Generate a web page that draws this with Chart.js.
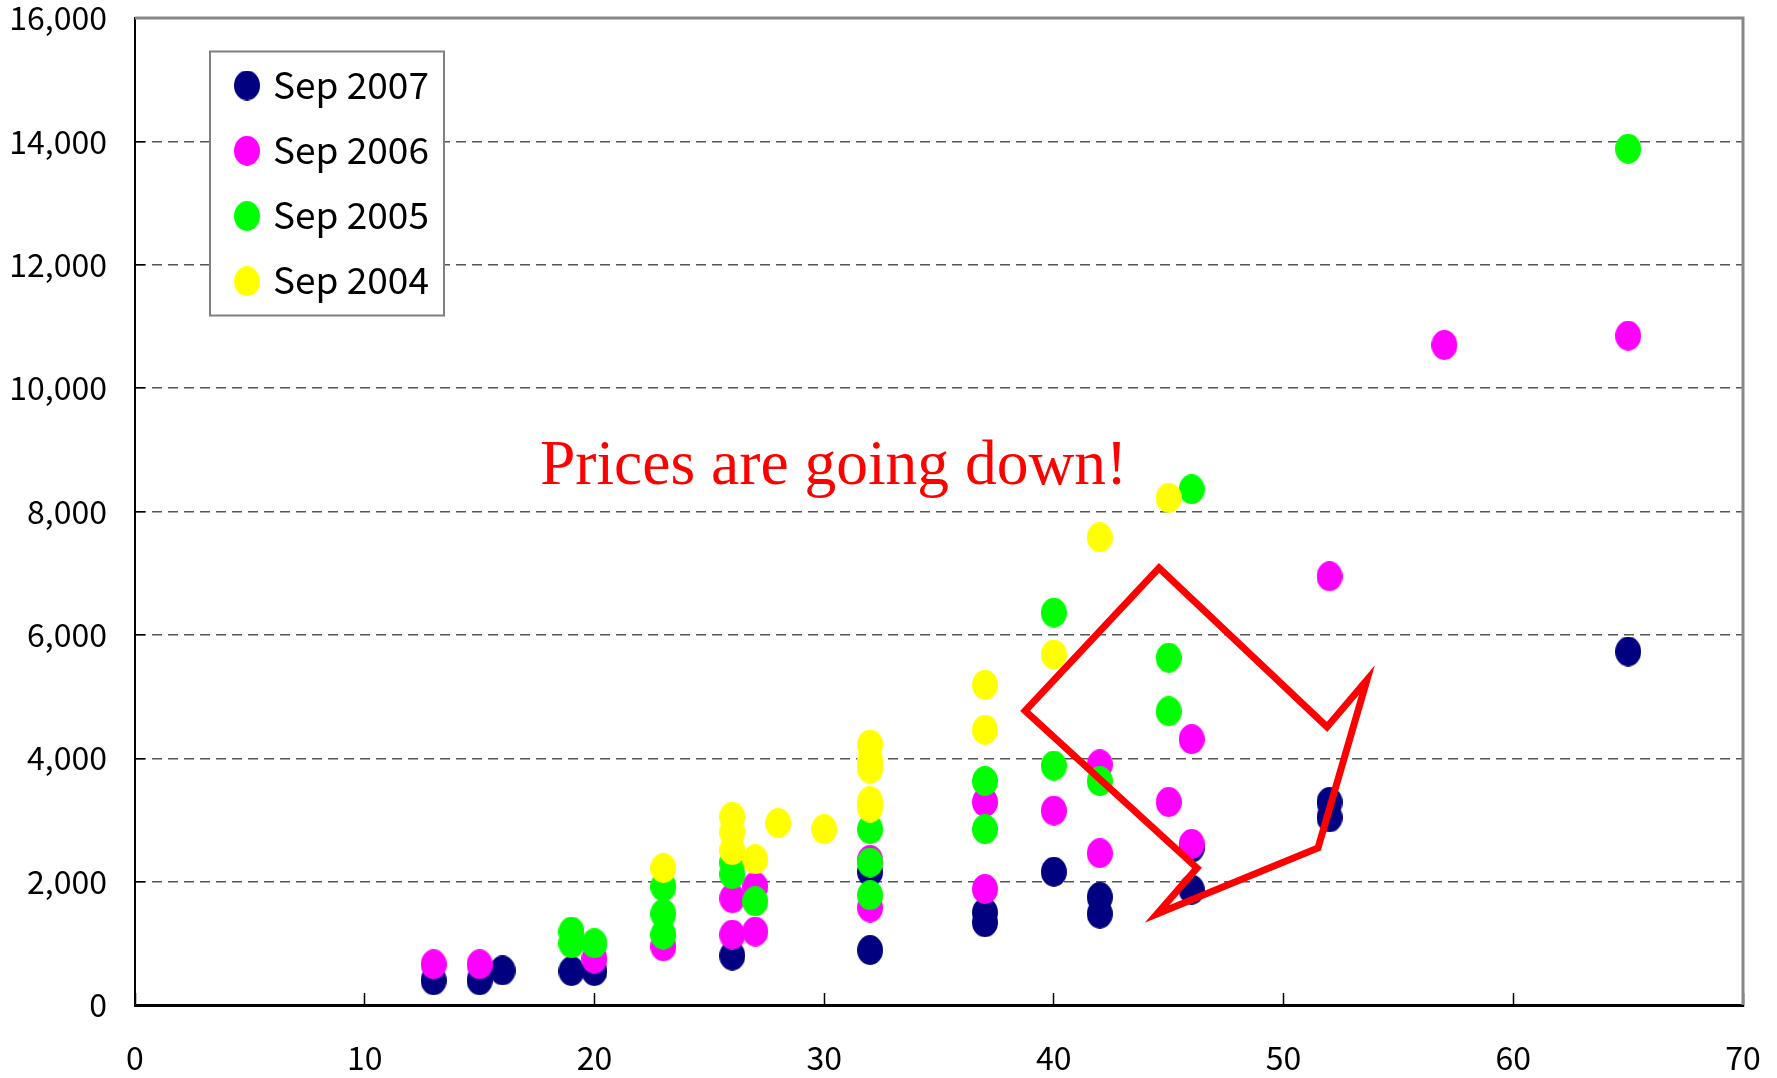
<!DOCTYPE html>
<html>
<head>
<meta charset="utf-8">
<script src="https://cdn.jsdelivr.net/npm/chart.js@4.4.1/dist/chart.umd.min.js"></script>
<style>
  html, body { margin: 0; padding: 0; background: #fff; }
  #wrap { width: 1777px; height: 1078px; }
</style>
</head>
<body>
<div id="wrap"><canvas id="chart" width="1777" height="1078"></canvas></div>
<script>
// series names and colours (legend order)
const SERIES_LABELS = ["Sep 2007", "Sep 2006", "Sep 2005", "Sep 2004"];
const SERIES_COLORS = ["#000080", "#FF00FF", "#00FF00", "#FFFF00"];

// [x, price] pairs
const SEP_2007 = [[13,400],[15,400],[16,560],[19,550],[20,550],[26,800],[32,2160],[32,890],
  [37,1500],[37,1340],[40,2160],[42,1750],[42,1480],[46,2550],[46,1870],[52,3290],[52,3040],[65,5730]];
const SEP_2006 = [[13,660],[15,660],[20,750],[23,950],[26,1730],[26,1140],[27,1920],[27,1190],
  [32,2350],[32,1580],[37,3290],[37,1880],[40,3150],[42,3900],[42,2460],[45,3290],[46,4310],
  [46,2610],[52,6950],[57,10700],[65,10850]];
const SEP_2005 = [[19,1190],[19,1000],[20,1000],[23,1920],[23,1480],[23,1140],[26,2310],[26,2120],
  [27,1680],[32,2850],[32,2310],[32,1780],[37,3630],[37,2850],[40,6360],[40,3880],[42,3630],
  [45,5630],[45,4760],[46,8360],[65,13880]];
const SEP_2004 = [[23,2220],[26,3050],[26,2800],[26,2510],[27,2360],[28,2950],[30,2850],[32,4220],
  [32,3970],[32,3830],[32,3300],[32,3200],[37,5190],[37,4460],[40,5680],[42,7580],[45,8220]];
const SERIES_DATA = [SEP_2007, SEP_2006, SEP_2005, SEP_2004];

const X_MIN = 0, X_MAX = 70, X_STEP = 10;
const Y_MIN = 0, Y_MAX = 16000, Y_STEP = 2000;

// annotation, in data units
const NOTE_TEXT = "Prices are going down!";
const NOTE_AT = [17.63, 8450];
const ARROW = [[44.58,7086],[38.75,4768],[46.23,2222],[44.49,1476],[51.50,2546],[53.63,5270],[51.89,4508]];

const TICK_FONT = '"Noto Sans CJK JP", "Noto Sans", sans-serif';

function ellipseMarker(color){
    const c = document.createElement("canvas");
    c.width = 26; c.height = 30;
    const g = c.getContext("2d");
    g.fillStyle = color;
    g.beginPath();
    g.ellipse(13, 15, 13, 15, 0, 0, Math.PI * 2);
    g.fill();
    return c;
}

// gray frame on top and right of plot
const frame = {
    id: "frame",
    beforeDatasetsDraw(chart){
        const {ctx, chartArea: a} = chart;
        ctx.save();
        ctx.strokeStyle = "#888";
        ctx.lineWidth = 3;
        ctx.beginPath();
        ctx.moveTo(a.left, a.top);
        ctx.lineTo(a.right, a.top);
        ctx.lineTo(a.right, a.bottom);
        ctx.stroke();
        ctx.restore();
    }
};

// red text + arrow outline
const note = {
    id: "note",
    afterDatasetsDraw(chart){
        const {ctx} = chart;
        const xs = chart.scales.x, ys = chart.scales.y;
        ctx.save();
        ctx.strokeStyle = "#FF0000";
        ctx.lineWidth = 7;
        ctx.lineJoin = "miter";
        ctx.miterLimit = 10;
        ctx.beginPath();
        ARROW.forEach(([x, y], i) => {
            const px = xs.getPixelForValue(x), py = ys.getPixelForValue(y);
            if(i === 0) ctx.moveTo(px, py); else ctx.lineTo(px, py);
        });
        ctx.closePath();
        ctx.stroke();

        ctx.fillStyle = "#FF0000";
        ctx.font = '63.5px "Liberation Serif", "Times New Roman", serif';
        ctx.textBaseline = "alphabetic";
        ctx.fillText(NOTE_TEXT, xs.getPixelForValue(NOTE_AT[0]), ys.getPixelForValue(NOTE_AT[1]));
        ctx.restore();
    }
};

// boxed legend inside the plot
const legendBox = {
    id: "legendBox",
    afterDraw(chart){
        const {ctx, chartArea: a} = chart;
        const left = a.left + 75, top = a.top + 33.5, w = 234, h = 264;
        ctx.save();
        ctx.fillStyle = "#fff";
        ctx.fillRect(left, top, w, h);
        ctx.strokeStyle = "#808080";
        ctx.lineWidth = 2;
        ctx.strokeRect(left, top, w, h);
        ctx.font = "37px " + TICK_FONT;
        ctx.textBaseline = "alphabetic";
        ctx.fillStyle = "#000";
        chart.data.datasets.forEach((ds, i) => {
            const cy = top + 34 + i * 65.3;
            ctx.drawImage(ds.pointStyle, left + 24, cy - 15);
            ctx.fillText(ds.label, left + 63, cy + 13);
        });
        ctx.restore();
    }
};

const datasets = SERIES_LABELS.map((label, i) => ({
    label,
    data: SERIES_DATA[i].map(([x, y]) => ({x, y})),
    pointStyle: ellipseMarker(SERIES_COLORS[i]),
    pointRadius: 13,
    backgroundColor: SERIES_COLORS[i],
    borderWidth: 0,
    order: SERIES_LABELS.length - i   // yellow drawn last, on top
}));

new Chart(document.getElementById("chart").getContext("2d"), {
    type: "scatter",
    data: { datasets },
    options: {
        responsive: false,
        animation: false,
        devicePixelRatio: 1,
        layout: { padding: { top: 18, right: 34, left: 0, bottom: 0 } },
        plugins: { legend: { display: false }, tooltip: { enabled: false } },
        scales: {
            x: {
                type: "linear", min: X_MIN, max: X_MAX,
                ticks: { stepSize: X_STEP, padding: 46, color: "#000", autoSkip: false, maxRotation: 0,
                         font: { family: TICK_FONT, size: 32 } },
                grid: { drawOnChartArea: false, tickLength: -12, tickColor: "#000", tickWidth: 1.5 },
                border: { color: "#000", width: 3 },
                afterFit(s){ s.height = 73; s.paddingLeft = 0; s.paddingRight = 0; }
            },
            y: {
                type: "linear", min: Y_MIN, max: Y_MAX,
                ticks: { stepSize: Y_STEP, padding: 38, color: "#000",
                         font: { family: TICK_FONT, size: 32 },
                         callback: v => v.toLocaleString("en-US") },
                grid: {
                    color: c => (c.tick && (c.tick.value === Y_MIN || c.tick.value === Y_MAX)) ? "rgba(0,0,0,0)" : "#555",
                    lineWidth: 1.5, tickLength: -10, tickColor: "#000", tickWidth: 1.5
                },
                border: { color: "#000", width: 2, dash: [10, 6] },
                afterFit(s){ s.width = 135; s.paddingTop = 0; s.paddingBottom = 0; }
            }
        }
    },
    plugins: [frame, note, legendBox]
});
</script>
</body>
</html>
